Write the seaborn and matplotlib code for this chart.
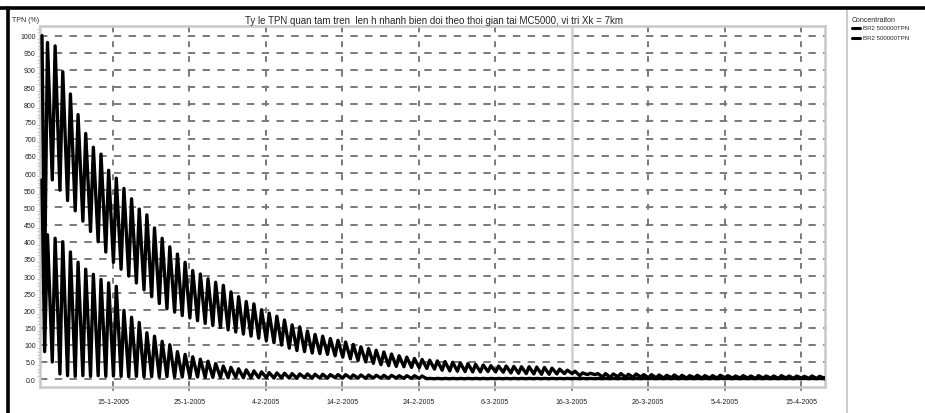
import numpy as np
import pandas as pd
import matplotlib
matplotlib.use("Agg")
import matplotlib.pyplot as plt
from matplotlib.lines import Line2D
import seaborn as sns

# ---------------- data ----------------
start_time = "2005-01-05 17:00"
start_a = 100.0
start_b = 58.0

# series A (slow decay): daily trough level and daily peak
a_trough = [30, 58, 55, 52, 49, 46, 43, 40, 37, 34,
            32, 30, 28, 26, 24, 22, 20.5, 19.5, 18.5, 17.8,
            17, 16.2, 15.6, 15, 14.3, 13.7, 13.1, 12.5, 11.9, 11.2,
            10.6, 9.9, 9.0, 8.3, 8.0, 7.6, 7.4, 7.2, 6.8, 6.4,
            5.9, 5.4, 5.0, 4.6, 4.2, 3.9, 3.7, 3.6, 3.4, 3.3,
            3.1, 2.9, 2.6, 2.4, 2.3, 2.2, 2.1, 2.1, 2.2, 2.1,
            2.0, 1.8, 1.7, 1.6, 1.5, 1.4, 1.4, 1.5, 1.6, 1.6,
            1.0, 1.3, 1.3, 0.6, 0.5, 0.7, 0.6, 0.5, 0.6, 0.4,
            0.4, 0.3, 0.4, 0.3, 0.3, 0.4, 0.3, 0.3, 0.3, 0.4,
            0.3, 0.3, 0.3, 0.2, 0.3, 0.3, 0.2, 0.3, 0.2, 0.3,
            0.2, 0.2, 0.3]
a_peak = [98, 97, 89.5, 83, 77, 71.5, 67.5, 65.5, 60.8, 58.5,
          55.5, 52.5, 49.5, 47.8, 44, 41, 38.5, 36.4, 34, 31.6,
          30.6, 29.2, 28.2, 27.3, 25.4, 24, 22.6, 21.9, 20.2, 19.2,
          18.3, 17.2, 15.8, 15.2, 14.0, 13.0, 12.5, 11.8, 11.3, 10.8,
          10.1, 9.4, 8.9, 8.4, 7.9, 7.3, 6.8, 6.4, 6.0, 5.7,
          5.5, 5.3, 5.1, 4.9, 4.7, 4.5, 4.3, 4.1, 3.9, 3.8,
          3.8, 3.7, 3.6, 3.6, 3.5, 3.4, 3.2, 2.9, 2.6, 2.3,
          1.8, 1.7, 1.6, 1.6, 1.5, 1.6, 1.4, 1.5, 1.3, 1.3,
          1.2, 1.1, 1.2, 1.1, 1.0, 1.1, 1.0, 1.0, 1.1, 1.0,
          0.9, 1.0, 0.9, 1.0, 0.9, 0.9, 1.0, 0.9, 0.9, 0.8,
          0.9, 0.8, 0.8]

# series B (fast decay)
b_trough = [8, 5, 1.5, 1.0, 0.8, 1.0, 0.8, 1.0, 0.8, 0.9,
            0.8, 0.7, 0.8, 0.6, 0.7, 0.6, 0.7, 0.6, 0.6, 0.5,
            0.6, 0.5, 0.5, 0.5, 0.4, 0.5, 0.4, 0.4, 0.4, 0.4,
            0.3, 0.4, 0.3, 0.3, 0.4, 0.3, 0.3, 0.3, 0.4, 0.3,
            0.3, 0.3, 0.2, 0.3, 0.3, 0.2, 0.3, 0.2, 0.2, 0.2,
            0.1, 0.1, 0.1, 0.1, 0.1, 0.1, 0.1, 0.1, 0.1, 0.1,
            0.1, 0.1, 0.1, 0.1, 0.1, 0.1, 0.1, 0.1, 0.1, 0.1,
            0.1, 0.1, 0.1, 0.1, 0.1, 0.1, 0.1, 0.1, 0.1, 0.1,
            0.1, 0.1, 0.1, 0.1, 0.1, 0.1, 0.1, 0.1, 0.1, 0.1,
            0.1, 0.1, 0.1, 0.1, 0.1, 0.1, 0.1, 0.1, 0.1, 0.1,
            0.1, 0.1, 0.1]
b_peak = [42, 41, 40, 37, 34, 32, 30.5, 29, 28, 27,
          20, 18, 16.5, 13.5, 12.5, 11, 10, 8, 7.2, 6.5,
          5.8, 5.2, 4.5, 3.8, 3.4, 3.0, 2.7, 2.4, 2.1, 1.9,
          1.8, 1.7, 1.6, 1.5, 1.5, 1.4, 1.4, 1.3, 1.3, 1.3,
          1.2, 1.2, 1.2, 1.1, 1.1, 1.1, 1.0, 1.0, 1.0, 0.9,
          0.2, 0.2, 0.2, 0.2, 0.2, 0.2, 0.2, 0.2, 0.2, 0.2,
          0.2, 0.2, 0.2, 0.2, 0.2, 0.2, 0.2, 0.2, 0.2, 0.2,
          0.2, 0.2, 0.2, 0.2, 0.2, 0.2, 0.2, 0.2, 0.2, 0.2,
          0.2, 0.2, 0.2, 0.2, 0.2, 0.2, 0.2, 0.2, 0.2, 0.2,
          0.2, 0.2, 0.2, 0.2, 0.2, 0.2, 0.2, 0.2, 0.2, 0.2,
          0.2, 0.2, 0.2]

series_labels = ["BR2 500000TPN", "BR2 500000TPN"]
legend_title = "Concentraiton"
title = "Ty le TPN quan tam tren  len h nhanh bien doi theo thoi gian tai MC5000, vi tri Xk = 7km"
y_label = "TPN (%)"

y_ticks = [0, 5, 10, 15, 20, 25, 30, 35, 40, 45, 50, 55, 60, 65, 70, 75, 80, 85, 90, 95, 100]
y_tick_labels = ["0.0", "5.0", "100", "150", "200", "250", "300", "350", "400", "450", "500",
                 "550", "600", "650", "700", "750", "800", "850", "900", "950", "1000"]
x_tick_dates = ["2005-01-15", "2005-01-25", "2005-02-04", "2005-02-14", "2005-02-24",
                "2005-03-06", "2005-03-16", "2005-03-26", "2005-04-05", "2005-04-15"]
x_tick_labels = ["15-1-2005", "25-1-2005", "4-2-2005", "14-2-2005", "24-2-2005",
                 "6-3-2005", "16-3-2005", "26-3-2005", "5-4-2005", "15-4-2005"]


def build(start_val, troughs, peaks):
    """Each day: fast rise from the trough to the peak, slower fall."""
    t0 = pd.Timestamp(start_time)
    times = [t0]
    vals = [start_val]
    for d, (lo, hi) in enumerate(zip(troughs, peaks)):
        times += [t0 + pd.Timedelta(days=d + 0.35),
                  t0 + pd.Timedelta(days=d + 0.72)]
        vals += [lo, hi]
    return pd.DataFrame({"time": times, "value": vals})


df_a = build(start_a, a_trough, a_peak)
df_b = build(start_b, b_trough, b_peak)

# ---------------- figure ----------------
sns.set_style("white")
plt.rcParams["font.family"] = ["Liberation Sans", "DejaVu Sans"]

W, H = 925, 414
fig = plt.figure(figsize=(W / 100, H / 100), dpi=100)
ax = fig.add_axes([40 / W, 1 - 388 / H, 785 / W, 361 / H])

grid_color = "#7a7a7a"
for yv in y_ticks:
    ax.axhline(yv, color=grid_color, lw=1.4, ls=(0, (3.8, 3.8)), zorder=0.5)
for xd in x_tick_dates:
    if xd == "2005-03-16":
        ax.axvline(pd.Timestamp(xd), color="#cfcfcf", lw=1.8, zorder=0.6)
    else:
        ax.axvline(pd.Timestamp(xd), color=grid_color, lw=1.4, ls=(0, (3.0, 4.6)), zorder=0.5)

sns.lineplot(data=df_a, x="time", y="value", ax=ax, color="black", lw=2.4,
             estimator=None, sort=False, zorder=3)
sns.lineplot(data=df_b, x="time", y="value", ax=ax, color="black", lw=2.4,
             estimator=None, sort=False, zorder=3)

ax.set_xlim(pd.Timestamp("2005-01-05 10:48"), pd.Timestamp("2005-04-18 03:20"))
ax.set_ylim(-2.3, 102.8)
ax.set_xlabel("")
ax.set_ylabel("")

ax.set_yticks(y_ticks)
ax.set_yticklabels(y_tick_labels, fontsize=5)
ax.set_xticks([pd.Timestamp(d) for d in x_tick_dates])
ax.set_xticklabels(x_tick_labels, fontsize=5)
ax.set_yticks(np.arange(0, 103, 1), minor=True)
ax.tick_params(axis="y", which="major", length=0, pad=3, labelcolor="#222222")
ax.tick_params(axis="y", which="minor", length=2, color="#c8c8c8", width=0.8, left=True)
ax.tick_params(axis="x", which="major", length=3, width=1.2, color=grid_color, pad=5,
               labelcolor="#222222", bottom=True)

for s in ax.spines.values():
    s.set_color("#c8c8c8")
    s.set_linewidth(1.8)

# texts
fig.text(12 / W, 1 - 21 / H, y_label, fontsize=5, ha="left", va="center")
fig.text(434 / W, 1 - 21 / H, title, fontsize=7, ha="center", va="center")

# legend (manual, in figure coords)
fig.text(852 / W, 1 - 20 / H, legend_title, fontsize=5, ha="left", va="center")
for i, lab in enumerate(series_labels):
    yy = 1 - (29 + 10 * i) / H
    fig.add_artist(Line2D([852 / W, 860 / W], [yy, yy], color="black", lw=2.2,
                          transform=fig.transFigure))
    fig.text(863 / W, yy, lab, fontsize=4.4, ha="left", va="center")

# frame decorations: legend separator, thick top/left border
fig.add_artist(Line2D([847 / W, 847 / W], [0, 1 - 10 / H], color="#cccccc", lw=1.5,
                      transform=fig.transFigure))
fig.add_artist(Line2D([0, 1], [1 - 8.5 / H, 1 - 8.5 / H], color="black", lw=2.6,
                      transform=fig.transFigure))
fig.add_artist(Line2D([8 / W, 8 / W], [0, 1 - 8.5 / H], color="black", lw=2.6,
                      transform=fig.transFigure))

fig.savefig("out.png", dpi=100)
